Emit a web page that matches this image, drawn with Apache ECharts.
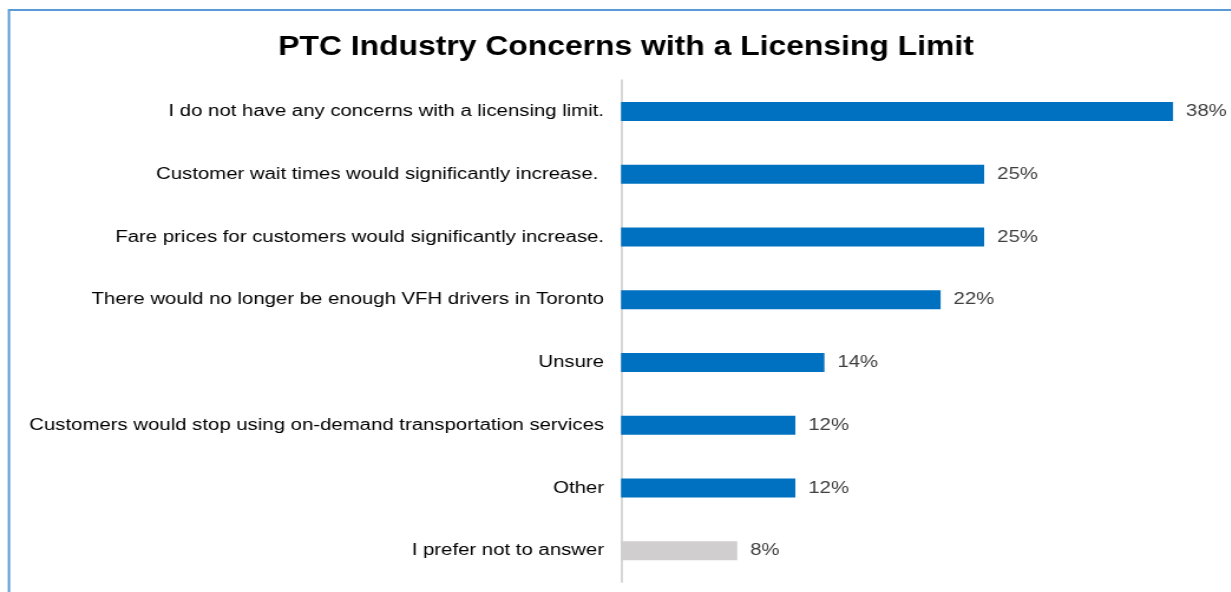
<!DOCTYPE html>
<html>
<head>
<meta charset="utf-8">
<script src="https://cdn.jsdelivr.net/npm/echarts@6/dist/echarts.min.js"></script>
<style>
  html, body { margin: 0; padding: 0; background: #fff; overflow: hidden; }
  /* the chart is laid out on a narrower canvas and widened horizontally */
  #chart { width: 1044px; height: 592px; transform: scaleX(1.18); transform-origin: 0 0; }
</style>
</head>
<body>
<div id="chart"></div>
<script>
// Survey responses, top to bottom
const categories = [
  'I do not have any concerns with a licensing limit.',
  'Customer wait times would significantly increase. ',
  'Fare prices for customers would significantly increase.',
  'There would no longer be enough VFH drivers in Toronto',
  'Unsure',
  'Customers would stop using on-demand transportation services',
  'Other',
  'I prefer not to answer'
];
const values = [38, 25, 25, 22, 14, 12, 12, 8];
const barColors = ['#0070C0', '#0070C0', '#0070C0', '#0070C0', '#0070C0', '#0070C0', '#0070C0', '#D0CECE'];

const FONT = 'Liberation Sans, Arial, sans-serif';
const chart = echarts.init(document.getElementById('chart'));
chart.setOption({
  backgroundColor: '#ffffff',
  animation: false,
  title: {
    text: 'PTC Industry Concerns with a Licensing Limit',
    left: 525.5,
    top: 29,
    textAlign: 'center',
    textStyle: { fontFamily: FONT, fontSize: 27, fontWeight: 'bold', color: '#000' }
  },
  graphic: [{
    type: 'rect',
    shape: { x: 7.6, y: 10, width: 1400, height: 800 },
    style: { fill: 'none', stroke: '#5B9BD5', lineWidth: 2 },
    silent: true
  }],
  grid: { left: 526.3, top: 80, width: 492.4, height: 502, containLabel: false },
  xAxis: {
    type: 'value', min: 0, max: 40,
    show: false
  },
  yAxis: {
    type: 'category',
    inverse: true,
    data: categories,
    axisLine: { show: true, lineStyle: { color: '#D0D0D0', width: 1.7 } },
    axisTick: { show: false },
    axisLabel: {
      margin: 14.4,
      color: '#000',
      fontFamily: FONT,
      fontSize: 17.25
    }
  },
  series: [{
    type: 'bar',
    barWidth: 19,
    data: values.map((v, i) => ({ value: v, itemStyle: { color: barColors[i] } })),
    label: {
      show: true,
      position: 'right',
      distance: 11,
      formatter: '{c}%',
      color: '#404040',
      fontFamily: FONT,
      fontSize: 17.25
    }
  }]
});
</script>
</body>
</html>
